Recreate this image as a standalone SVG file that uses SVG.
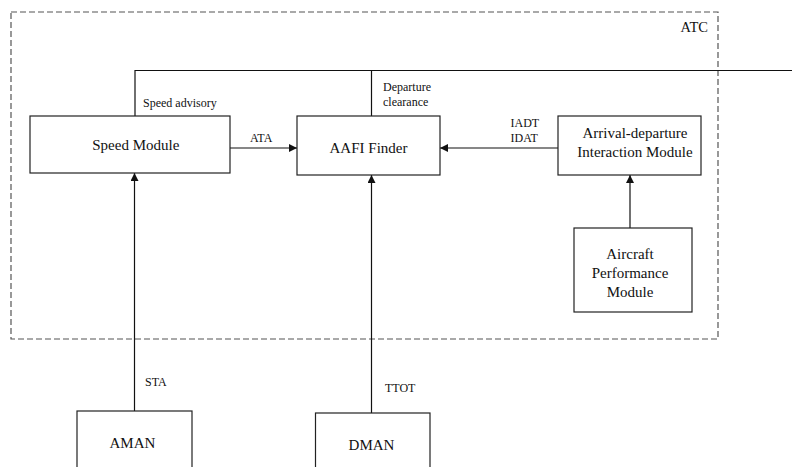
<svg xmlns="http://www.w3.org/2000/svg" width="792" height="467" viewBox="0 0 792 467">
  <style>
    .box { fill: #fff; stroke: #222; stroke-width: 1.2; }
    .line { fill: none; stroke: #111; stroke-width: 1.2; }
    .boundary { fill: none; stroke: #555; stroke-width: 1.2; stroke-dasharray: 6 3; }
    text { fill: #111; font-family: 'Liberation Serif', 'Times New Roman', serif; }
    .big { font-size: 15px; text-anchor: middle; }
    .small { font-size: 12px; }
  </style>
  <defs>
    <marker id="arrow" viewBox="0 0 10 10" refX="10" refY="5" markerWidth="8" markerHeight="8" markerUnits="userSpaceOnUse" orient="auto">
      <path d="M0,0 L10,5 L0,10 z" fill="#111"/>
    </marker>
  </defs>

  <rect fill="#fff" width="792" height="467"/>

  <!-- ATC boundary -->
  <g id="atc">
    <rect class="boundary" x="11" y="12" width="707" height="327"/>
    <text x="708" y="32" font-size="14.5" text-anchor="end">ATC</text>
  </g>

  <!-- connectors -->
  <g id="connectors">
    <polyline class="line" points="135,116 135,70.5 792,70.5"/>
    <line class="line" x1="371.5" y1="70.5" x2="371.5" y2="116"/>
    <line class="line" x1="230" y1="148" x2="297" y2="148" marker-end="url(#arrow)"/>
    <line class="line" x1="558" y1="148" x2="440" y2="148" marker-end="url(#arrow)"/>
    <line class="line" x1="630" y1="228" x2="630" y2="175" marker-end="url(#arrow)"/>
    <line class="line" x1="134.5" y1="411" x2="134.5" y2="173" marker-end="url(#arrow)"/>
    <line class="line" x1="371.5" y1="413" x2="371.5" y2="175" marker-end="url(#arrow)"/>
    <text class="small" x="143" y="106.5">Speed advisory</text>
    <text class="small" x="383" y="91">Departure</text>
    <text class="small" x="383" y="106">clearance</text>
    <text class="small" x="250" y="142.3">ATA</text>
    <text class="small" x="510.5" y="126.7">IADT</text>
    <text class="small" x="510.5" y="141.7">IDAT</text>
    <text class="small" x="145" y="386">STA</text>
    <text class="small" x="385" y="391.5">TTOT</text>
  </g>

  <g id="speed-module">
    <rect class="box" x="30" y="116" width="200" height="57"/>
    <text class="big" x="135.8" y="150">Speed Module</text>
  </g>

  <g id="aafi-finder">
    <rect class="box" x="297" y="116" width="143" height="59"/>
    <text class="big" x="368.5" y="153">AAFI Finder</text>
  </g>

  <g id="arrival-departure">
    <rect class="box" x="558" y="116" width="143" height="59"/>
    <text class="big" x="635" y="138.3" font-size="14.5">Arrival-departure</text>
    <text class="big" x="635" y="157" font-size="14.5">Interaction Module</text>
  </g>

  <g id="aircraft-performance">
    <rect class="box" x="574" y="228" width="118" height="84"/>
    <text class="big" x="630" y="259.3">Aircraft</text>
    <text class="big" x="630" y="278.3">Performance</text>
    <text class="big" x="630" y="297.3">Module</text>
  </g>

  <g id="aman">
    <rect class="box" x="77" y="411" width="115" height="70"/>
    <text class="big" x="132.4" y="448">AMAN</text>
  </g>

  <g id="dman">
    <rect class="box" x="315.5" y="413" width="114.5" height="70"/>
    <text class="big" x="371.5" y="450">DMAN</text>
  </g>
</svg>
